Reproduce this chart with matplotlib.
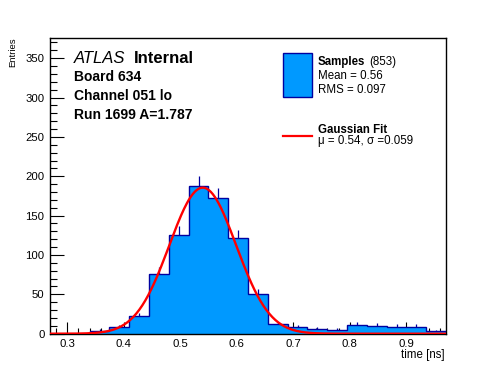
import numpy as np
import matplotlib
matplotlib.use("Agg")
import matplotlib.pyplot as plt
from matplotlib.ticker import MultipleLocator

plt.rcParams['font.family'] = ['Liberation Sans', 'DejaVu Sans']

# histogram: 20 bins of 0.035 ns from 0.27 to 0.97
bin_edges = [0.27, 0.305, 0.34, 0.375, 0.41, 0.445, 0.48, 0.515, 0.55, 0.585, 0.62,
             0.655, 0.69, 0.725, 0.76, 0.795, 0.83, 0.865, 0.90, 0.935, 0.97]
counts = [0, 0, 4, 8, 22, 76, 125, 187, 172, 121, 50,
          12, 8, 6, 5, 11, 10, 9, 9, 3]

# gaussian fit parameters
fit_amp = 185.5
fit_mu = 0.54
fit_sigma = 0.059

W, H = 496, 372
fig = plt.figure(figsize=(W / 100, H / 100), dpi=100)
ax = fig.add_axes([50 / W, 1 - 333.7 / H, 396 / W, (333.7 - 37.7) / H])

fill_col = '#0099ff'
edge_col = '#0000a0'

edges = np.array(bin_edges)
vals = np.array(counts, dtype=float)
ax.stairs(vals, edges, fill=True, color=fill_col, zorder=2)
ax.stairs(vals, edges, fill=False, color=edge_col, lw=1.0, zorder=3)

# error bars (upper half visible above the fill)
centers = 0.5 * (edges[:-1] + edges[1:])
nz = vals > 0
ax.vlines(centers[nz], vals[nz], vals[nz] + np.sqrt(vals[nz]), color=edge_col, lw=0.9, zorder=3)

xs = np.linspace(edges[0], edges[-1], 400)
ax.plot(xs, fit_amp * np.exp(-0.5 * ((xs - fit_mu) / fit_sigma) ** 2), color='#ff0000', lw=1.7, zorder=4)

ax.set_xlim(0.27, 0.97)
ax.set_ylim(0, 376)
ax.xaxis.set_major_locator(MultipleLocator(0.1))
ax.xaxis.set_minor_locator(MultipleLocator(0.02))
ax.yaxis.set_major_locator(MultipleLocator(50))
ax.yaxis.set_minor_locator(MultipleLocator(10))
ax.xaxis.set_major_formatter(plt.FuncFormatter(lambda v, p: '%g' % round(v, 2)))
ax.tick_params(which='both', direction='in', top=False, right=False, labelsize=8.2, width=0.8)
ax.tick_params(axis='x', which='major', length=8.5, pad=4)
ax.tick_params(axis='x', which='minor', length=4.5)
ax.tick_params(axis='y', which='major', length=10, pad=4)
ax.tick_params(axis='y', which='minor', length=5)
for s in ax.spines.values():
    s.set_linewidth(1.0)

def ftext(x, y, s, **kw):
    fig.text(x / W, 1 - y / H, s, va='baseline', **kw)

ftext(74, 63.3, 'ATLAS', fontsize=12, style='italic')
ftext(133.5, 63.3, 'Internal', fontsize=12, weight='bold')
ftext(74, 81, 'Board 634', fontsize=10, weight='bold')
ftext(74, 100.3, 'Channel 051 lo', fontsize=10, weight='bold')
ftext(74, 119.3, 'Run 1699 A=1.787', fontsize=10, weight='bold')

# legend
fig.patches.append(plt.Rectangle((283.3 / W, 1 - 96.7 / H), 28.4 / W, 43.4 / H,
                                 transform=fig.transFigure, facecolor=fill_col,
                                 edgecolor=edge_col, lw=1.0))
ftext(317.7, 65, 'Samples', fontsize=8.3, weight='bold')
ftext(369.5, 65, '(853)', fontsize=8.3)
ftext(317.7, 79.3, 'Mean = 0.56', fontsize=8.3)
ftext(317.7, 93.3, 'RMS = 0.097', fontsize=8.3)
fig.lines.append(plt.Line2D([282.7 / W, 311.7 / W], [1 - 136 / H, 1 - 136 / H],
                            transform=fig.transFigure, color='#ff0000', lw=1.6))
ftext(317.7, 132.7, 'Gaussian Fit', fontsize=8.3, weight='bold')
ftext(317.7, 144.3, 'μ = 0.54, σ =0.059', fontsize=8.3)

fig.text(13 / W, 1 - 37.7 / H, 'Entries', rotation=90, ha='center', va='top', fontsize=6.8)
fig.text(445 / W, 1 - 355 / H, 'time [ns]', ha='right', va='center', fontsize=8.3)

fig.savefig('out.png', dpi=100)
